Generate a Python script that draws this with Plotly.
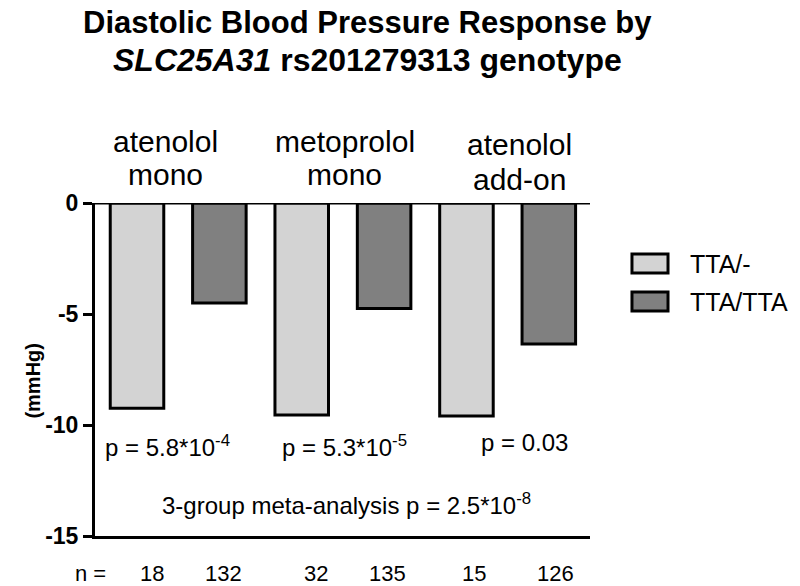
import plotly.graph_objects as go

# ---- data ----
groups = ["atenolol mono", "metoprolol mono", "atenolol add-on"]
group_line1 = ["atenolol", "metoprolol", "atenolol"]
group_line2 = ["mono", "mono", "add-on"]
genotypes = ["TTA/-", "TTA/TTA"]
tta_minus = [-9.25, -9.55, -9.6]
tta_tta = [-4.5, -4.75, -6.35]
n_minus = [18, 32, 15]
n_tta = [132, 135, 126]
p_values = ["p = 5.8*10<sup>-4</sup>", "p = 5.3*10<sup>-5</sup>", "p = 0.03"]
meta_text = "3-group meta-analysis p = 2.5*10<sup>-8</sup>"
title_line1 = "Diastolic Blood Pressure Response by"
title_line2 = "<i>SLC25A31</i> rs201279313 genotype"
y_ticks = [0, -5, -10, -15]
y_tick_labels = ["0", "-5", "-10", "-15"]

FONT = "Liberation Sans, Arial, Helvetica, sans-serif"
colors = ["#d3d3d3", "#808080"]

fig = go.Figure()
for name, vals, col in zip(genotypes, [tta_minus, tta_tta], colors):
    fig.add_trace(go.Bar(
        x=groups, y=vals, name=name,
        marker=dict(color=col, line=dict(color="black", width=3)),
        showlegend=False, hoverinfo="skip",
    ))

annotations = []
# title
annotations.append(dict(x=0.5515, xref="paper", y=1.542, yref="paper",
                        text="<b>" + title_line1 + "</b>", showarrow=False,
                        font=dict(size=31, color="black", family=FONT),
                        xanchor="center", yanchor="middle"))
annotations.append(dict(x=0.5515, xref="paper", y=1.429, yref="paper",
                        text="<b>" + title_line2 + "</b>", showarrow=False,
                        font=dict(size=32, color="black", family=FONT),
                        xanchor="center", yanchor="middle"))
# group labels (two lines each)
g_shift = [-13, 2, 12]
g_y1 = [1.1832, 1.1832, 1.1742]
g_y2 = [1.0841, 1.0841, 1.0691]
for i, g in enumerate(groups):
    annotations.append(dict(x=g, xref="x", y=g_y1[i], yref="paper",
                            text=group_line1[i], showarrow=False, xshift=g_shift[i],
                            font=dict(size=30, color="black", family=FONT),
                            xanchor="center", yanchor="middle"))
    annotations.append(dict(x=g, xref="x", y=g_y2[i], yref="paper",
                            text=group_line2[i], showarrow=False, xshift=g_shift[i],
                            font=dict(size=30, color="black", family=FONT),
                            xanchor="center", yanchor="middle"))
# p-values
p_shift = [-11, 2, 17]
p_y = [-10.95, -10.95, -10.8]
for i, g in enumerate(groups):
    annotations.append(dict(x=g, xref="x", y=p_y[i], yref="y", text=p_values[i],
                            showarrow=False, xshift=p_shift[i],
                            font=dict(size=24, color="black", family=FONT),
                            xanchor="center", yanchor="middle"))
annotations.append(dict(x=1, xref="x", y=-13.55, yref="y", text=meta_text,
                        showarrow=False, xshift=4,
                        font=dict(size=24, color="black", family=FONT),
                        xanchor="center", yanchor="middle"))
# n row
n_shift = [15, 4, 14, 3, 8, 7]
k = 0
for i in range(len(groups)):
    for off, nv in ((-0.25, n_minus[i]), (0.25, n_tta[i])):
        annotations.append(dict(x=i + off, xref="x", y=-0.114, yref="paper",
                                text=str(nv), showarrow=False, xshift=n_shift[k],
                                font=dict(size=22, color="black", family=FONT),
                                xanchor="center", yanchor="middle"))
        k += 1
annotations.append(dict(x=0, xref="paper", y=-0.114, yref="paper", text="n =",
                        showarrow=False, xshift=-5,
                        font=dict(size=22, color="black", family=FONT),
                        xanchor="center", yanchor="middle"))
# y axis title
annotations.append(dict(x=0, xref="paper", y=-8, yref="y", text="<b>(mmHg)</b>",
                        showarrow=False, xshift=-62, textangle=-90,
                        font=dict(size=20, color="black", family=FONT),
                        xanchor="center", yanchor="middle"))
# custom legend
leg_boxes = [(0.7898, 0.8468), (0.6757, 0.7327)]
shapes = []
for (y0, y1), col, name in zip(leg_boxes, colors, genotypes):
    shapes.append(dict(type="rect", xref="paper", yref="paper",
                       x0=1.0848, x1=1.1576, y0=y0, y1=y1,
                       fillcolor=col, line=dict(color="black", width=3)))
    annotations.append(dict(x=1.198, xref="paper", y=(y0 + y1) / 2, yref="paper",
                            text=name, showarrow=False, xanchor="left", yanchor="middle",
                            font=dict(size=25, color="black", family=FONT)))
# zero baseline
shapes.append(dict(type="line", xref="paper", yref="y", x0=0, x1=1, y0=0, y1=0,
                   line=dict(color="black", width=3), layer="above"))

fig.update_layout(
    width=784, height=586,
    margin=dict(l=87, r=202, t=195, b=58),
    paper_bgcolor="white", plot_bgcolor="white",
    barmode="group", bargap=0, bargroupgap=0.35,
    annotations=annotations,
    shapes=shapes,
    font=dict(family=FONT, color="black"),
)
fig.update_xaxes(range=[-0.505, 2.5], showticklabels=False, ticks="",
                 showline=True, linecolor="black", linewidth=3,
                 showgrid=False, zeroline=False, fixedrange=True)
fig.update_yaxes(range=[-15, 0], tickvals=y_ticks, ticktext=y_tick_labels,
                 ticks="outside", ticklen=9, tickwidth=3, tickcolor="black",
                 tickfont=dict(size=23, color="black", family=FONT, weight="bold"),
                 showline=True, linecolor="black", linewidth=3,
                 showgrid=False, zeroline=False, fixedrange=True)

fig.write_html("out.html")
